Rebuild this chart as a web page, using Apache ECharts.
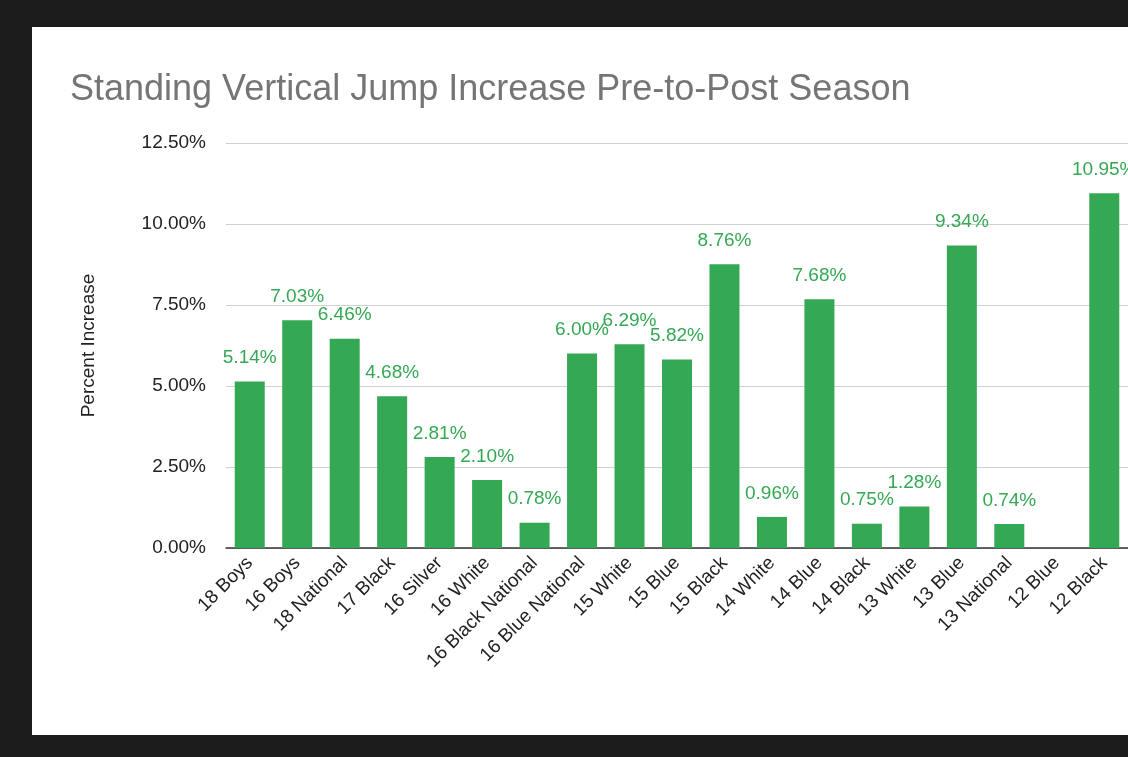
<!DOCTYPE html>
<html>
<head>
<meta charset="utf-8">
<script src="https://cdn.jsdelivr.net/npm/echarts@6/dist/echarts.min.js"></script>
<style>
  html, body { margin: 0; padding: 0; background: #1c1c1c; width: 1128px; height: 757px; overflow: hidden; }
  #chart { position: absolute; left: 32px; top: 27px; width: 1096px; height: 708px; background: #fff; }
</style>
</head>
<body>
<div id="chart"></div>
<script>
const categories = ['18 Boys', '16 Boys', '18 National', '17 Black', '16 Silver', '16 White',
  '16 Black National', '16 Blue National', '15 White', '15 Blue', '15 Black', '14 White',
  '14 Blue', '14 Black', '13 White', '13 Blue', '13 National', '12 Blue', '12 Black'];
const increase = [5.14, 7.03, 6.46, 4.68, 2.81, 2.10, 0.78, 6.00, 6.29, 5.82, 8.76, 0.96,
  7.68, 0.75, 1.28, 9.34, 0.74, null, 10.95];
const yTicks = [0, 2.5, 5, 7.5, 10, 12.5];

const font = '"Liberation Sans", Arial, sans-serif';
const chart = echarts.init(document.getElementById('chart'));
chart.setOption({
  animation: false,
  backgroundColor: '#ffffff',
  title: {
    text: 'Standing Vertical Jump Increase Pre-to-Post Season',
    left: 33, top: 40,
    textStyle: { fontFamily: font, fontSize: 36, fontWeight: 'normal', color: '#757575' }
  },
  grid: { left: 194, top: 116, width: 906, height: 405 },
  xAxis: {
    type: 'category',
    data: categories,
    axisTick: { show: false },
    axisLine: { lineStyle: { color: '#333', width: 1.5 } },
    axisLabel: { rotate: 45, interval: 0, fontSize: 19, color: '#222', fontFamily: font, margin: 12 }
  },
  yAxis: {
    type: 'value',
    min: yTicks[0], max: yTicks[yTicks.length - 1], interval: 2.5,
    name: 'Percent Increase',
    nameLocation: 'middle', nameGap: 128, nameRotate: 90,
    nameTextStyle: { fontSize: 19, color: '#222', fontFamily: font },
    axisLabel: { formatter: v => v.toFixed(2) + '%', fontSize: 19, color: '#222', fontFamily: font, margin: 20 },
    splitLine: { lineStyle: { color: '#d0d0d0' } }
  },
  series: [{
    type: 'bar',
    data: increase,
    barWidth: 30,
    itemStyle: { color: '#34a853' },
    label: {
      show: true, position: 'top', distance: 14,
      formatter: p => p.value == null ? '' : p.value.toFixed(2) + '%',
      fontSize: 19, color: '#34a853', fontFamily: font
    }
  }]
});
</script>
</body>
</html>
